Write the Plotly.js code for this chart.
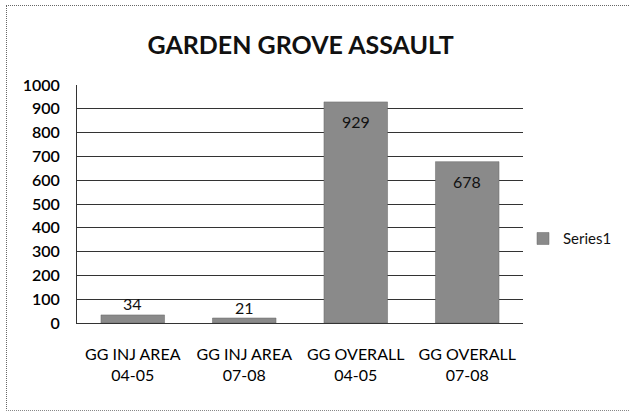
<!DOCTYPE html>
<html>
<head>
<meta charset="utf-8">
<script src="https://cdn.plot.ly/plotly-3.0.1.min.js"></script>
<style>
html,body{margin:0;padding:0;background:#fff;}
#wrap{position:relative;width:629px;height:412px;}
#chart{width:629px;height:412px;}
#frame{position:absolute;left:6px;top:5px;width:640px;height:404px;border-left:1px dotted #666;border-top:1px dotted #666;border-bottom:1px dotted #888;pointer-events:none;}
</style>
</head>
<body>
<div id="wrap"><div id="chart"></div><div id="frame"></div></div>
<script>
const categories = ["GG INJ AREA<br>04-05", "GG INJ AREA<br>07-08", "GG OVERALL<br>04-05", "GG OVERALL<br>07-08"];
const series1 = [34, 21, 929, 678];
const seriesName = "Series1";
const titleText = "GARDEN GROVE ASSAULT";
const tickVals = [0, 100, 200, 300, 400, 500, 600, 700, 800, 900, 1000];

const fontFam = "Lato, 'Open Sans', sans-serif";

const annotations = categories.map((c, i) => {
  const inside = series1[i] > 200;
  return {
    x: c, y: series1[i], xref: 'x', yref: 'y',
    text: String(series1[i]), showarrow: false,
    yanchor: 'middle', yshift: inside ? -20 : 11,
    font: {family: fontFam, size: 16, color: '#111'}
  };
});

const trace = {
  type: 'bar', x: categories, y: series1, name: seriesName,
  marker: {color: '#8a8a8a', line: {color: '#666', width: 0.5}},
  showlegend: true, hoverinfo: 'none'
};

const layout = {
  width: 629, height: 412,
  margin: {l: 77, r: 106, t: 85, b: 89},
  paper_bgcolor: '#fff', plot_bgcolor: '#fff',
  title: {text: '<b>' + titleText + '</b>', x: 0.478, xanchor: 'center', y: 0.89, yanchor: 'middle',
          font: {family: fontFam, size: 25, color: '#111'}},
  bargap: 0.43,
  xaxis: {type: 'category', showgrid: false, showline: true, linecolor: '#333', linewidth: 1,
          ticks: '', ticklabelstandoff: 17,
          tickfont: {family: fontFam, size: 16, color: '#000'}, fixedrange: true},
  yaxis: {range: [0, 1000], tickvals: tickVals, showgrid: true, gridcolor: '#333', gridwidth: 1,
          showline: true, linecolor: '#333', linewidth: 1, zeroline: false, ticks: '',
          ticklabelstandoff: 13,
          tickfont: {family: fontFam, size: 16, color: '#000', weight: 600}, fixedrange: true},
  legend: {x: 1.0, xanchor: 'left', y: 0.354, yanchor: 'middle', itemwidth: 30,
           font: {family: fontFam, size: 15, color: '#111'}, bgcolor: 'rgba(0,0,0,0)'},
  annotations: annotations
};

Plotly.newPlot('chart', [trace], layout, {staticPlot: true});
</script>
</body>
</html>
